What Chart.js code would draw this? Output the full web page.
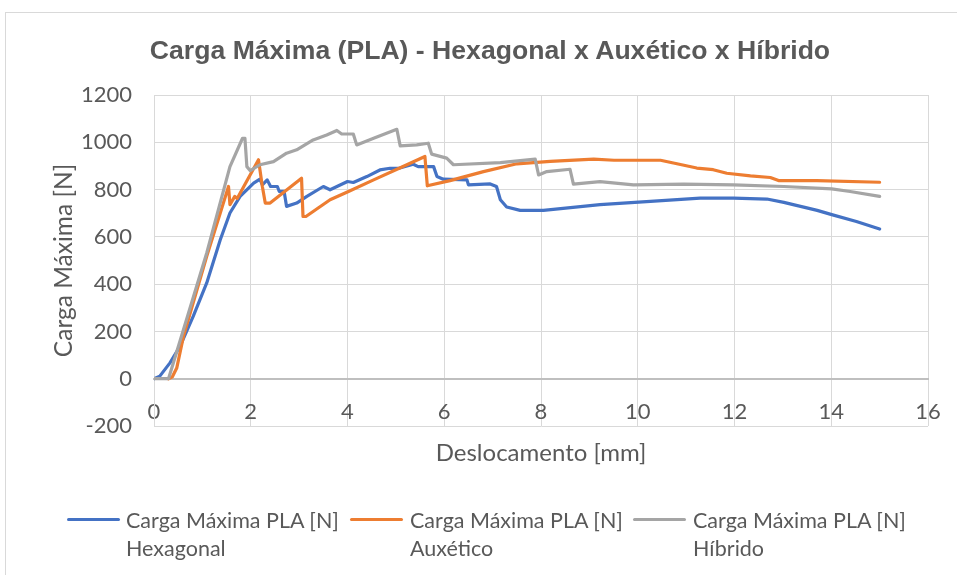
<!DOCTYPE html>
<html lang="pt">
<head>
<meta charset="utf-8">
<title>Carga Máxima (PLA)</title>
<script src="https://cdn.jsdelivr.net/npm/chart.js@4.4.1/dist/chart.umd.min.js"></script>
<style>
  html, body { margin: 0; padding: 0; background: #ffffff; }
  body { width: 957px; height: 575px; position: relative; overflow: hidden; font-family: Lato, "Open Sans", sans-serif; color: #595959; }
  #frame { position: absolute; left: 5px; top: 12px; width: 1200px; height: 800px; border: 1px solid #d9d9d9; box-sizing: border-box; }
  #wrap { position: absolute; left: 0; top: 0; width: 957px; height: 575px; }
  #title { position: absolute; left: 90px; width: 800px; top: 33px; text-align: center; white-space: nowrap;
           font-family: "Liberation Sans", Arial, sans-serif; font-weight: bold; font-size: 26.6px; line-height: 34px; }
  #xtitle { position: absolute; left: 154px; width: 774px; top: 437px; text-align: center; font-size: 24px; line-height: 30px; }
  .leg { position: absolute; top: 506px; font-size: 21.5px; line-height: 28px; }
  .leg .sw { position: absolute; top: 12px; height: 3px; border-radius: 2px; }
  .leg .tx { position: absolute; white-space: nowrap; }
</style>
</head>
<body>
<div id="frame"></div>
<div id="wrap"><canvas id="c" width="957" height="575"></canvas></div>
<div id="title">Carga Máxima (PLA) - Hexagonal x Auxético x Híbrido</div>
<div id="xtitle">Deslocamento [mm]</div>
<div id="legend"></div>
<script>
// Deslocamento [mm] / Carga [N] — Hexagonal
const hexX = [0, 0.12, 0.33, 0.54, 0.81, 1.09, 1.37, 1.57, 1.78, 2.06, 2.19, 2.24, 2.34, 2.41, 2.55, 2.59, 2.69, 2.74, 2.95, 3.16, 3.50, 3.64, 4.00, 4.12, 4.40, 4.67, 4.88, 5.08, 5.36, 5.46, 5.78, 5.85, 5.98, 6.47, 6.50, 6.95, 7.08, 7.16, 7.29, 7.57, 8.05, 9.22, 10.26, 11.29, 11.98, 12.67, 13.02, 13.71, 14.01, 14.52, 15.00];
const hexY = [0, 11, 67, 138, 264, 405, 588, 701, 771, 827, 844, 820, 841, 813, 813, 792, 792, 729, 743, 771, 813, 799, 834, 830, 855, 883, 890, 891, 907, 897, 897, 855, 844, 841, 820, 824, 813, 757, 726, 712, 712, 736, 750, 764, 764, 760, 746, 712, 694, 665, 633];

// Auxético
const auxX = [0.30, 0.38, 0.47, 0.61, 1.09, 1.37, 1.54, 1.57, 1.67, 1.72, 2.16, 2.24, 2.30, 2.40, 3.05, 3.08, 3.14, 3.64, 4.02, 4.54, 5.08, 5.60, 5.65, 6.12, 6.81, 7.50, 8.19, 9.09, 9.51, 10.47, 10.81, 11.22, 11.56, 11.84, 12.33, 12.74, 12.91, 13.70, 15.00];
const auxY = [0, 8, 45, 180, 518, 701, 813, 736, 771, 762, 926, 813, 743, 743, 848, 686, 686, 757, 792, 841, 891, 940, 816, 838, 876, 909, 919, 929, 924, 924, 909, 891, 884, 869, 858, 851, 838, 838, 831];

// Híbrido
const hibX = [0, 0.30, 0.61, 1.09, 1.57, 1.83, 1.88, 1.92, 1.99, 2.19, 2.47, 2.74, 2.95, 3.29, 3.57, 3.78, 3.88, 4.12, 4.19, 4.54, 5.02, 5.09, 5.43, 5.67, 5.74, 6.05, 6.19, 7.16, 7.88, 7.95, 8.12, 8.60, 8.67, 9.22, 9.91, 10.95, 11.98, 13.02, 14.01, 14.39, 15.00];
const hibY = [0, 0, 208, 532, 897, 1017, 1017, 897, 880, 905, 918, 954, 968, 1010, 1031, 1050, 1035, 1035, 989, 1017, 1055, 985, 989, 996, 950, 933, 905, 914, 929, 862, 876, 886, 823, 834, 820, 823, 820, 813, 803, 792, 771];

const seriesNames = [
  ['Carga Máxima PLA [N]', 'Hexagonal'],
  ['Carga Máxima PLA [N]', 'Auxético'],
  ['Carga Máxima PLA [N]', 'Híbrido']
];
const seriesColors = ['#4472C4', '#ED7D31', '#A5A5A5'];
const xTicks = [0, 2, 4, 6, 8, 10, 12, 14, 16];
const yTicks = [-200, 0, 200, 400, 600, 800, 1000, 1200];

const toPoints = (xs, ys) => xs.map((x, i) => ({ x: x, y: ys[i] }));

const TEXT = '#595959';
const GRID = '#d9d9d9';

const datasets = [
  { label: seriesNames[0].join(' '), data: toPoints(hexX, hexY), borderColor: seriesColors[0], order: 3 },
  { label: seriesNames[1].join(' '), data: toPoints(auxX, auxY), borderColor: seriesColors[1], order: 2 },
  { label: seriesNames[2].join(' '), data: toPoints(hibX, hibY), borderColor: seriesColors[2], order: 1 }
].map(d => Object.assign(d, { borderWidth: 3.2, pointRadius: 0, tension: 0, fill: false, borderJoinStyle: 'round', borderCapStyle: 'round' }));

new Chart(document.getElementById('c'), {
  type: 'line',
  data: { datasets: datasets },
  options: {
    responsive: false,
    animation: false,
    events: [],
    layout: { padding: { top: 95, left: 0, right: 29, bottom: 149 } },
    plugins: {
      legend: { display: false },
      tooltip: { enabled: false },
      title: { display: false }
    },
    scales: {
      x: {
        type: 'linear',
        position: { y: 0 },
        min: xTicks[0],
        max: xTicks[xTicks.length - 1],
        afterBuildTicks: s => { s.ticks = xTicks.map(v => ({ value: v })); },
        afterFit: s => { s.paddingLeft = 0; s.paddingRight = 0; },
        ticks: { color: TEXT, font: { family: 'Lato', size: 22 }, padding: 20, maxRotation: 0, callback: v => String(v) },
        grid: { color: GRID, lineWidth: 1, drawTicks: false },
        border: { color: '#bfbfbf', width: 2 }
      },
      y: {
        type: 'linear',
        position: 'left',
        min: yTicks[0],
        max: yTicks[yTicks.length - 1],
        afterBuildTicks: s => { s.ticks = yTicks.map(v => ({ value: v })); },
        afterFit: s => { s.width = 154; },
        ticks: { color: TEXT, font: { family: 'Lato', size: 22 }, padding: 22, callback: v => String(v) },
        grid: { color: GRID, lineWidth: 1, drawTicks: false },
        border: { color: GRID, width: 1 },
        title: {
          display: true,
          text: 'Carga Máxima [N]',
          color: TEXT,
          font: { family: 'Lato', size: 24.5, lineHeight: 1.2 },
          padding: { top: 49, bottom: 0 }
        }
      }
    }
  }
});

// Legend below the plot: swatch line + two-line label per series
const legendPos = [
  { sw: 67, swW: 53, tx: 126 },
  { sw: 350, swW: 53, tx: 410 },
  { sw: 633, swW: 53, tx: 693 }
];
const legend = document.getElementById('legend');
seriesNames.forEach((lines, i) => {
  const item = document.createElement('div');
  item.className = 'leg';
  item.style.left = '0px';
  const sw = document.createElement('div');
  sw.className = 'sw';
  sw.style.left = legendPos[i].sw + 'px';
  sw.style.width = legendPos[i].swW + 'px';
  sw.style.background = seriesColors[i];
  const tx = document.createElement('div');
  tx.className = 'tx';
  tx.style.left = legendPos[i].tx + 'px';
  tx.innerHTML = lines.join('<br>');
  item.appendChild(sw);
  item.appendChild(tx);
  legend.appendChild(item);
});
</script>
</body>
</html>
